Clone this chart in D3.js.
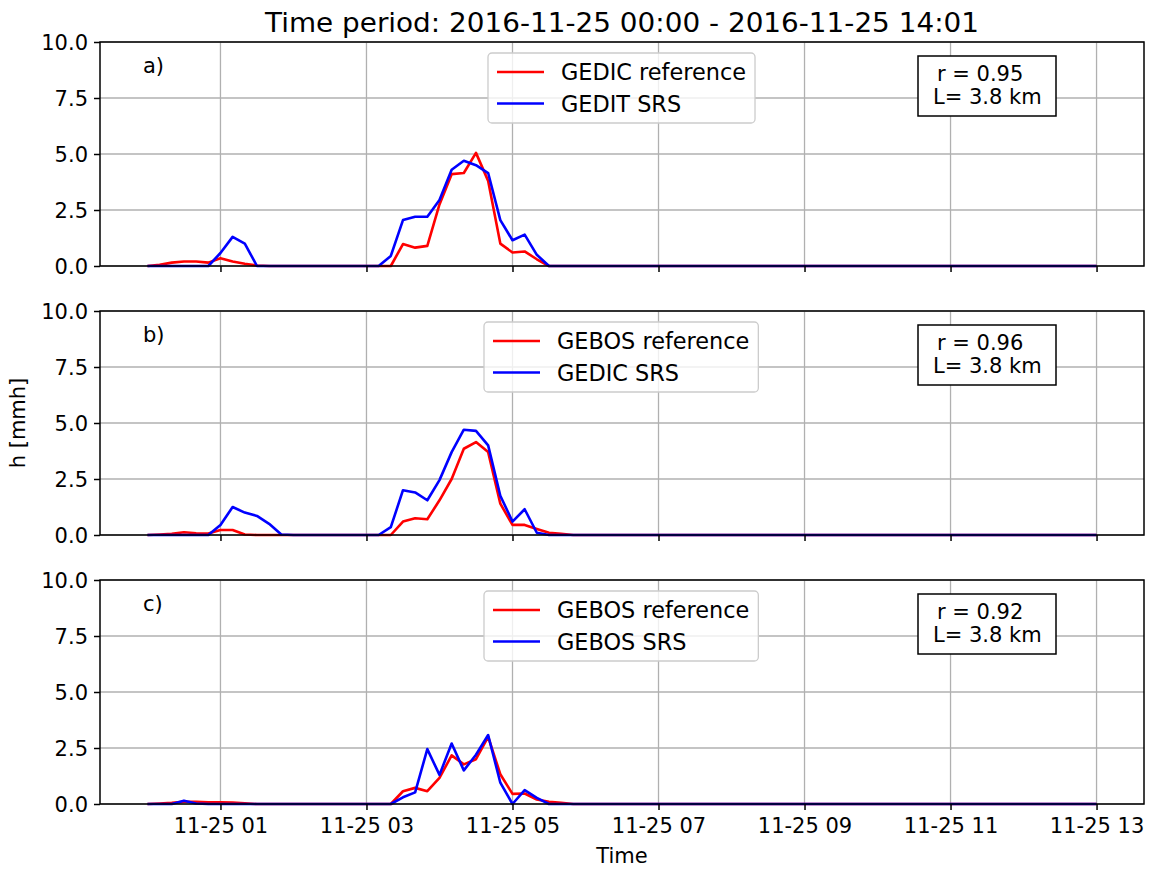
<!DOCTYPE html>
<html><head><meta charset="utf-8">
<script src="https://cdn.jsdelivr.net/npm/d3@7"></script>
<style>
body{margin:0;background:#fff;}
text{font-family:"DejaVu Sans",sans-serif;fill:#000;}
</style></head>
<body><svg id="c" width="1153" height="880"></svg>
<script>
// ---------------- data ----------------
const startTime = new Date(2016, 10, 25, 0, 0);
const endTime = new Date(2016, 10, 25, 13, 0);
const titleText = "Time period: 2016-11-25 00:00 - 2016-11-25 14:01";
const panelLabels = ["a)", "b)", "c)"];
const refNames = ["GEDIC reference", "GEBOS reference", "GEBOS reference"];
const srsNames = ["GEDIT SRS", "GEDIC SRS", "GEBOS SRS"];
const rValues = ["r = 0.95", "r = 0.96", "r = 0.92"];
const lValues = ["L= 3.8 km", "L= 3.8 km", "L= 3.8 km"];
const yTicks = [0, 2.5, 5, 7.5, 10];
const xTickHours = [1, 3, 5, 7, 9, 11, 13];

// 10-minute values, 00:00 .. 13:00 (79 points)
const refA = [0,0.05,0.15,0.2,0.2,0.15,0.35,0.2,0.1,0.02,
  0,0,0,0,0,0,0,0,0,0,
  0,0.98,0.82,0.9,2.75,4.1,4.15,5.05,3.8,1.0,
  0.6,0.65,0.3,0,0,0,0,0,0,0,
  0,0,0,0,0,0,0,0,0,0, 0,0,0,0,0,0,0,0,0,0,
  0,0,0,0,0,0,0,0,0,0, 0,0,0,0,0,0,0,0,0];
const srsA = [0,0,0,0,0,0,0.58,1.3,1.0,0,
  0,0,0,0,0,0,0,0,0,0,
  0.45,2.05,2.2,2.2,2.95,4.3,4.7,4.5,4.15,2.05,
  1.15,1.4,0.5,0,0,0,0,0,0,0,
  0,0,0,0,0,0,0,0,0,0, 0,0,0,0,0,0,0,0,0,0,
  0,0,0,0,0,0,0,0,0,0, 0,0,0,0,0,0,0,0,0];
const refB = [0,0.02,0.05,0.12,0.08,0.07,0.22,0.22,0.02,0,
  0,0,0,0,0,0,0,0,0,0,
  0,0.6,0.75,0.7,1.55,2.5,3.85,4.15,3.7,1.4,
  0.45,0.45,0.27,0.1,0.05,0,0,0,0,0,
  0,0,0,0,0,0,0,0,0,0, 0,0,0,0,0,0,0,0,0,0,
  0,0,0,0,0,0,0,0,0,0, 0,0,0,0,0,0,0,0,0];
const srsB = [0,0,0,0,0,0,0.45,1.25,1.0,0.85,
  0.5,0.02,0,0,0,0,0,0,0,0,
  0.35,2.0,1.9,1.55,2.45,3.7,4.7,4.65,4.0,1.75,
  0.6,1.15,0.1,0,0,0,0,0,0,0,
  0,0,0,0,0,0,0,0,0,0, 0,0,0,0,0,0,0,0,0,0,
  0,0,0,0,0,0,0,0,0,0, 0,0,0,0,0,0,0,0,0];
const refC = [0,0.02,0.05,0.1,0.1,0.08,0.08,0.06,0.03,0,
  0,0,0,0,0,0,0,0,0,0,
  0,0.57,0.72,0.57,1.17,2.17,1.77,2.0,3.0,1.33,
  0.45,0.47,0.2,0.1,0.05,0,0,0,0,0,
  0,0,0,0,0,0,0,0,0,0, 0,0,0,0,0,0,0,0,0,0,
  0,0,0,0,0,0,0,0,0,0, 0,0,0,0,0,0,0,0,0];
const srsC = [0,0,0,0.15,0.02,0,0,0,0,0,
  0,0,0,0,0,0,0,0,0,0,
  0,0.3,0.52,2.45,1.3,2.7,1.5,2.2,3.08,0.95,
  0,0.62,0.27,0,0,0,0,0,0,0,
  0,0,0,0,0,0,0,0,0,0, 0,0,0,0,0,0,0,0,0,0,
  0,0,0,0,0,0,0,0,0,0, 0,0,0,0,0,0,0,0,0];
const refSeries = [refA, refB, refC];
const srsSeries = [srsA, srsB, srsC];

// ---------------- layout ----------------
const svg = d3.select("#c");
const L = 100, R = 1144;
const panelTops = [42, 311, 580];
const PH = 224;
const FS = 21;
const times = d3.timeMinute.every(10).range(startTime, new Date(+endTime + 1));
const pad = (endTime - startTime) * 0.05;
const x = d3.scaleTime().domain([new Date(+startTime - pad), new Date(+endTime + pad)]).range([L, R]);
const xTickVals = xTickHours.map(h => new Date(2016, 10, 25, h, 0));
const fmt = d3.timeFormat("%m-%d %H");

svg.append("text").attr("x", (L + R) / 2).attr("y", 32).attr("text-anchor", "middle")
  .attr("textLength", 714).attr("lengthAdjust", "spacingAndGlyphs")
  .style("font-size", "26px").text(titleText);

panelTops.forEach((top, p) => {
  const y = d3.scaleLinear().domain([0, 10]).range([top + PH, top]);
  const g = svg.append("g");
  // grid
  g.selectAll(".gx").data(xTickVals).join("line")
    .attr("x1", d => x(d)).attr("x2", d => x(d)).attr("y1", top).attr("y2", top + PH)
    .attr("stroke", "#b0b0b0").attr("stroke-width", 1.3);
  g.selectAll(".gy").data(yTicks).join("line")
    .attr("x1", L).attr("x2", R).attr("y1", d => y(d)).attr("y2", d => y(d))
    .attr("stroke", "#b0b0b0").attr("stroke-width", 1.3);
  // lines
  const line = d3.line().x((d, i) => x(times[i])).y(d => y(d));
  g.append("path").datum(refSeries[p]).attr("d", line).attr("fill", "none")
    .attr("stroke", "#ff0000").attr("stroke-width", 2.6).attr("stroke-linejoin", "round");
  g.append("path").datum(srsSeries[p]).attr("d", line).attr("fill", "none")
    .attr("stroke", "#0000ff").attr("stroke-width", 2.6).attr("stroke-linejoin", "round");
  // frame
  g.append("rect").attr("x", L).attr("y", top).attr("width", R - L).attr("height", PH)
    .attr("fill", "none").attr("stroke", "#000").attr("stroke-width", 1.5);
  // y axis
  const ya = g.append("g").attr("transform", `translate(${L},0)`)
    .call(d3.axisLeft(y).tickValues(yTicks).tickFormat(d3.format(".1f")).tickSize(6).tickPadding(6));
  ya.select(".domain").remove();
  ya.selectAll("line").attr("stroke-width", 1.5);
  ya.selectAll("text").style("font-size", FS + "px").style("font-family", "DejaVu Sans").attr("dy", "0.36em");
  // x axis
  const xa = g.append("g").attr("transform", `translate(0,${top + PH})`)
    .call(d3.axisBottom(x).tickValues(xTickVals).tickFormat(fmt).tickSize(6).tickPadding(8));
  xa.select(".domain").remove();
  xa.selectAll("line").attr("stroke-width", 1.5);
  xa.selectAll("text").style("font-size", FS + "px").style("font-family", "DejaVu Sans");
  if (p < 2) xa.selectAll("text").remove();
  // panel label
  g.append("text").attr("x", 143).attr("y", top + 31).style("font-size", "21px").text(panelLabels[p]);
  // legend
  const lgX = p === 0 ? 488 : 484;
  const lgY = top + 11;
  const lg = g.append("g");
  const bg = lg.append("rect").attr("x", lgX).attr("y", lgY).attr("rx", 4).attr("height", 70)
    .attr("fill", "#fff").attr("fill-opacity", 0.8).attr("stroke", "#cccccc").attr("stroke-width", 1.3);
  const names = [refNames[p], srsNames[p]];
  const cols = ["#ff0000", "#0000ff"];
  let maxW = 0;
  names.forEach((n, k) => {
    const cy = lgY + 19 + k * 31.5;
    lg.append("line").attr("x1", lgX + 9).attr("x2", lgX + 56).attr("y1", cy).attr("y2", cy)
      .attr("stroke", cols[k]).attr("stroke-width", 2.6);
    const t = lg.append("text").attr("x", lgX + 73).attr("y", cy + 8).style("font-size", "22.4px").text(n);
    maxW = Math.max(maxW, t.node().getComputedTextLength());
  });
  bg.attr("width", 73 + maxW + 9);
  // r box
  const bx = 918, by = top + 14;
  g.append("rect").attr("x", bx).attr("y", by).attr("width", 138).attr("height", 60)
    .attr("fill", "#fff").attr("stroke", "#000").attr("stroke-width", 1.5);
  g.append("text").attr("x", bx + 19).attr("y", by + 25).style("font-size", "21px").text(rValues[p]);
  g.append("text").attr("x", bx + 15).attr("y", by + 48).style("font-size", "21px").text(lValues[p]);
});

svg.append("text").attr("x", (L + R) / 2).attr("y", 863).attr("text-anchor", "middle")
  .style("font-size", FS + "px").text("Time");
svg.append("text").attr("transform", "translate(25,423) rotate(-90)").attr("text-anchor", "middle")
  .style("font-size", FS + "px").text("h [mmh]");
</script></body></html>
